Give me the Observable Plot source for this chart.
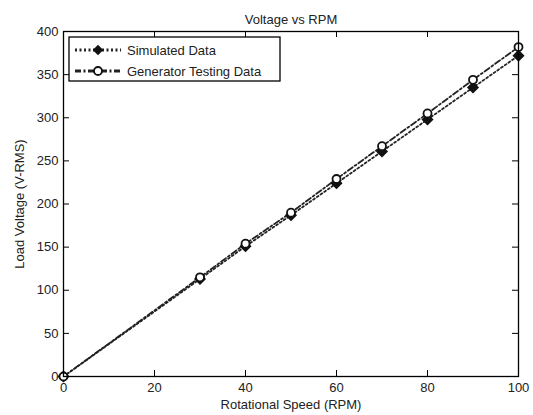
<!DOCTYPE html>
<html><head><meta charset="utf-8">
<script src="https://cdn.jsdelivr.net/npm/d3@7"></script>
<script src="https://cdn.jsdelivr.net/npm/@observablehq/plot@0.6"></script>
<style>
body{margin:0;background:#fff;font-family:"Liberation Sans",Arial,sans-serif}
#wrap{position:relative;width:533px;height:415px}
</style></head><body><div id="wrap"></div>
<script>
const titleText = "Voltage vs RPM";
const xLabel = "Rotational Speed (RPM)";
const yLabel = "Load Voltage (V-RMS)";
const rpm = [0, 30, 40, 50, 60, 70, 80, 90, 100];
const simulated = [0, 113, 151, 187, 224, 261, 298, 335, 372];
const generator = [0, 115, 154, 190, 229, 267, 305, 344, 382];
const seriesNames = ["Simulated Data", "Generator Testing Data"];
const xTicks = [0, 20, 40, 60, 80, 100];
const yTicks = [0, 50, 100, 150, 200, 250, 300, 350, 400];

const W = 533, H = 415, mL = 63, mR = 15, mT = 31, mB = 39;
const fw = W - mL - mR, fh = H - mT - mB, tick = 6;
const simData = rpm.map((x, i) => ({x, y: simulated[i]}));
const genData = rpm.map((x, i) => ({x, y: generator[i]}));
const simDash = "2,2.5", genDash = "6,2.5,2,2.5";

const chart = Plot.plot({
  width: W, height: H,
  marginLeft: mL, marginRight: mR, marginTop: mT, marginBottom: mB,
  style: {fontFamily: "Liberation Sans, Arial, sans-serif", fontSize: "13px", color: "#222", background: "#fff"},
  x: {domain: [0, 100]},
  y: {domain: [0, 400]},
  marks: [
    Plot.axisX({ticks: xTicks, tickSize: 0, tickPadding: 6, label: xLabel, labelAnchor: "center", labelOffset: 32, labelArrow: "none", fontSize: 13}),
    Plot.axisY({ticks: yTicks, tickSize: 0, tickPadding: 5, label: yLabel, labelAnchor: "center", labelOffset: 49, labelArrow: "none", fontSize: 13}),
    Plot.tickX(xTicks, {x: d => d, insetTop: fh - tick, stroke: "#000"}),
    Plot.tickX(xTicks, {x: d => d, insetBottom: fh - tick, stroke: "#000"}),
    Plot.tickY(yTicks, {y: d => d, insetRight: fw - tick, stroke: "#000"}),
    Plot.tickY(yTicks, {y: d => d, insetLeft: fw - tick, stroke: "#000"}),
    Plot.line(simData, {x: "x", y: "y", stroke: "#222", strokeWidth: 1.8, strokeDasharray: simDash}),
    Plot.line(genData, {x: "x", y: "y", stroke: "#222", strokeWidth: 1.8, strokeDasharray: genDash}),
    Plot.dot(simData, {x: "x", y: "y", symbol: "diamond2", r: 4.5, fill: "#111", stroke: "#111"}),
    Plot.dot(genData, {x: "x", y: "y", symbol: "circle", r: 4, fill: "#fff", stroke: "#111", strokeWidth: 1.8}),
    Plot.frame({stroke: "#000", strokeWidth: 1.3}),
    Plot.text([titleText], {frameAnchor: "top", dy: -17, fontSize: 13, fill: "#222"})
  ]
});
document.getElementById("wrap").appendChild(chart);

// legend
const svg = d3.select(chart);
const g = svg.append("g").attr("font-family", "Liberation Sans, Arial, sans-serif").attr("font-size", 13).attr("fill", "#222").attr("text-anchor", "start");
g.append("rect").attr("x", 69).attr("y", 37).attr("width", 211).attr("height", 44).attr("fill", "#fff").attr("stroke", "#000").attr("stroke-width", 1.3);
const rows = [
  {name: seriesNames[0], dash: simDash, sym: "diamond"},
  {name: seriesNames[1], dash: genDash, sym: "circle"}
];
rows.forEach((r, i) => {
  const y = 50 + i * 21;
  g.append("line").attr("x1", 75).attr("x2", 121).attr("y1", y).attr("y2", y).attr("stroke", "#222").attr("stroke-width", 2.8).attr("stroke-dasharray", r.dash);
  if (r.sym === "circle") {
    g.append("circle").attr("cx", 98).attr("cy", y).attr("r", 4).attr("fill", "#fff").attr("stroke", "#111").attr("stroke-width", 1.8);
  } else {
    g.append("path").attr("d", d3.symbol(d3.symbolDiamond2, 70)()).attr("transform", `translate(98,${y})`).attr("fill", "#111");
  }
  g.append("text").attr("x", 127).attr("y", y).attr("dy", "0.35em").text(r.name);
});
</script></body></html>
